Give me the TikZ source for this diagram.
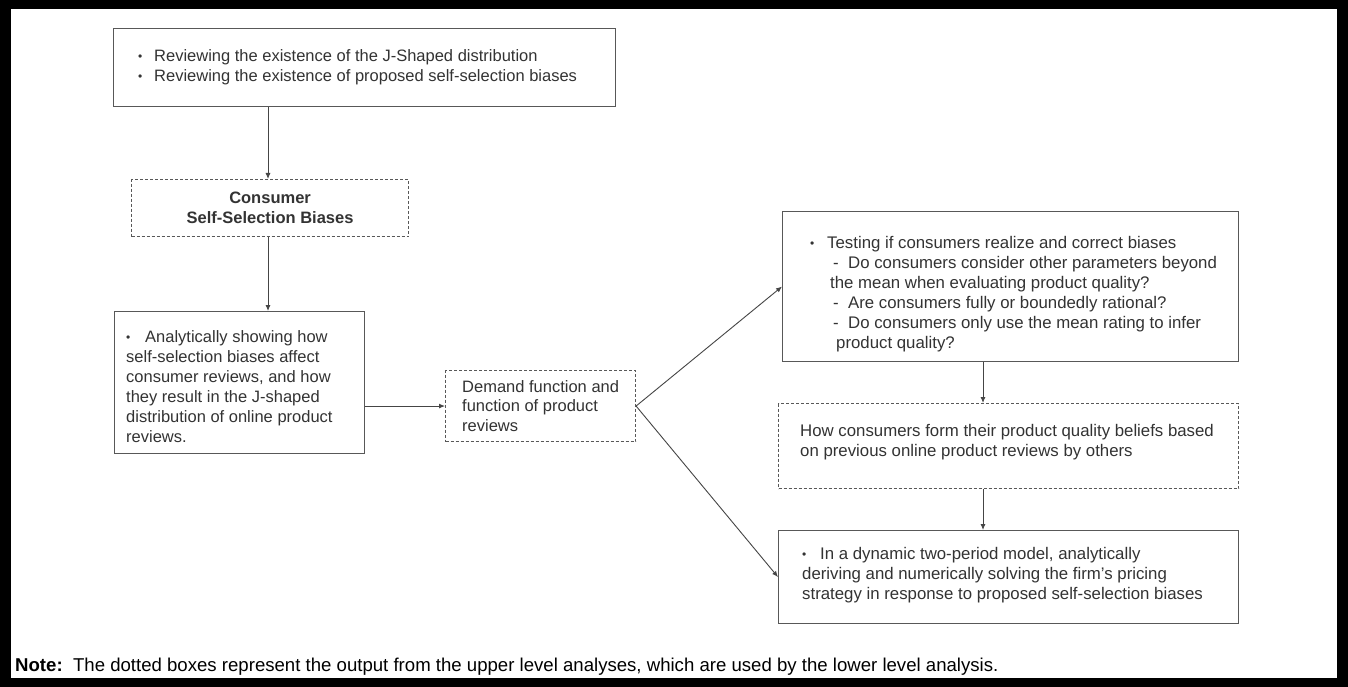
\documentclass[tikz,border=0pt]{standalone}
\usepackage{fontspec}
\setmainfont{Liberation Sans}
\usetikzlibrary{arrows.meta}
\definecolor{boxgray}{HTML}{585858}
\definecolor{txtgray}{HTML}{333333}
\definecolor{linegray}{HTML}{454545}
\newcommand{\bul}[1][16pt]{\makebox[#1][l]{\raisebox{1.2pt}{\fontsize{12}{12}\selectfont\textbullet}}}
\begin{document}
\begin{tikzpicture}[x=1pt,y=-1pt,
  boxs/.style={draw=boxgray, line width=1.1pt, rectangle, anchor=north west, inner sep=0pt},
  dboxs/.style={boxs, dash pattern=on 3pt off 2pt},
  txt/.style={align=left, inner sep=0pt, text=txtgray, anchor=west},
  arr/.style={draw=linegray, line width=0.9pt, -{Latex[length=6pt,width=5pt]}},
]
\useasboundingbox (0,0) rectangle (1348,687);
\fill[black] (0,0) rectangle (1348,687);
\fill[white] (11,9) rectangle (1337,678);

% left column
\node[boxs, minimum width=502pt, minimum height=78pt] (top) at (113,28) {};
\node[txt, font=\fontsize{16.5}{20}\selectfont] (toptxt) at (138,67)
  {\bul Reviewing the existence of the J-Shaped distribution\\
   \bul Reviewing the existence of proposed self-selection biases};

\node[dboxs, minimum width=277pt, minimum height=57pt] (d1) at (131,179) {};
\node[align=center, inner sep=0pt, text=txtgray, font=\bfseries\fontsize{16.5}{20}\selectfont] (d1txt) at (d1.center)
  {Consumer\\Self-Selection Biases};

\node[boxs, minimum width=250pt, minimum height=142pt] (lb) at (114,311) {};
\node[txt, font=\fontsize{16.5}{20}\selectfont] (lbtxt) at (126,387)
  {\bul[19pt]Analytically showing how\\
   self-selection biases affect\\
   consumer reviews, and how\\
   they result in the J-shaped\\
   distribution of online product\\
   reviews.};

\node[dboxs, minimum width=190pt, minimum height=71pt] (d2) at (445,370) {};
\node[txt, font=\fontsize{16.5}{19.5}\selectfont] (d2txt) at (462,406)
  {Demand function and\\function of product\\reviews};

% right column
\node[boxs, minimum width=456pt, minimum height=150pt] (b1) at (782,211) {};
\node[txt, font=\fontsize{16.8}{20}\selectfont] (b1txt) at (810,294)
  {\bul[17pt]Testing if consumers realize and correct biases\\
   \hspace*{23pt}-\ \ Do consumers consider other parameters beyond\\
   \hspace*{20pt}the mean when evaluating product quality?\\
   \hspace*{23pt}-\ \ Are consumers fully or boundedly rational?\\
   \hspace*{23pt}-\ \ Do consumers only use the mean rating to infer\\
   \hspace*{26pt}product quality?};

\node[dboxs, minimum width=460pt, minimum height=85pt] (d3) at (778,403) {};
\node[txt, font=\fontsize{16.8}{20}\selectfont] (d3txt) at (800,442)
  {How consumers form their product quality beliefs based\\
   on previous online product reviews by others};

\node[boxs, minimum width=460pt, minimum height=93pt] (bb) at (778,530) {};
\node[txt, font=\fontsize{16.8}{20}\selectfont] (bbtxt) at (802,575)
  {\bul[18pt]In a dynamic two-period model, analytically\\
   deriving and numerically solving the firm's pricing\\
   strategy in response to proposed self-selection biases};

\coordinate (colL) at (268,0);
\coordinate (colR) at (983,0);

% connectors
\draw[arr] (top.south -| colL) -- (d1.north -| colL);
\draw[arr] (d1.south -| colL) -- (lb.north -| colL);
\draw[arr] (lb.east |- d2.west) -- (d2.west);
\draw[arr] (d2.east) -- (b1.west);
\draw[arr] (d2.east) -- (bb.west);
\draw[arr] (b1.south -| colR) -- (d3.north -| colR);
\draw[arr] (d3.south -| colR) -- (bb.north -| colR);

% note
\node[anchor=west, inner sep=0pt, font=\fontsize{18.6}{18.6}\selectfont] (note) at (15,667)
  {\textbf{Note:}\ \ The dotted boxes represent the output from the upper level analyses, which are used by the lower level analysis.};
\end{tikzpicture}
\end{document}
